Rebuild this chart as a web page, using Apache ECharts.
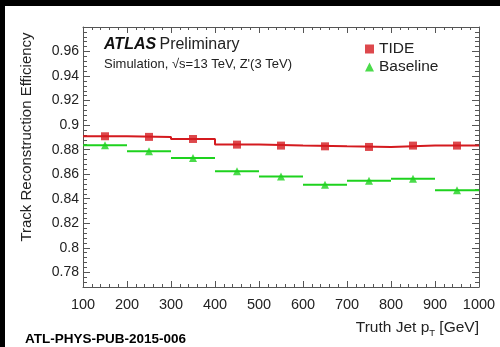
<!DOCTYPE html>
<html>
<head>
<meta charset="utf-8">
<script src="https://cdn.jsdelivr.net/npm/echarts@6/dist/echarts.min.js"></script>
<style>
  html, body { margin: 0; padding: 0; background: #fff; }
  #main { width: 500px; height: 347px; }
</style>
</head>
<body>
<div id="main"></div>
<script>
// bin edges of truth jet pT (GeV) and the bin centres
const binEdges = [100, 200, 300, 400, 500, 600, 700, 800, 900, 1000];
const binCenters = [150, 250, 350, 450, 550, 650, 750, 850, 950];

// efficiencies
const tide = [0.8909, 0.8904, 0.8887, 0.8841, 0.8833, 0.8827, 0.8822, 0.8833, 0.8833];
const baseline = [0.8835, 0.8786, 0.8732, 0.8623, 0.8582, 0.8514, 0.8547, 0.8563, 0.8468];

const RED = '#d41a1f';
const GREEN = '#1ed21e';
const AXIS = '#555';
const FONT = '"Liberation Sans", Arial, sans-serif';

// histogram style steps for TIDE
const tideSteps = [];
tide.forEach((v, i) => {
    tideSteps.push([binEdges[i], v]);
    tideSteps.push([binEdges[i + 1], v]);
});
const baseBins = baseline.map((v, i) => [binEdges[i], binEdges[i + 1], v]);

const myChart = echarts.init(document.getElementById('main'));

const yCommon = {
    type: 'value', min: 0.768, max: 0.98, splitNumber: 10,
    axisLine: { show: true, onZero: false, lineStyle: { color: AXIS, width: 1 } },
    axisTick: { inside: true, length: 7, lineStyle: { color: AXIS } },
    minorTick: { show: true, splitNumber: 5, length: 4, lineStyle: { color: AXIS } },
    splitLine: { show: false }
};
const xCommon = {
    type: 'value', min: 100, max: 1000, interval: 100,
    axisLine: { show: true, onZero: false, lineStyle: { color: AXIS, width: 1 } },
    axisTick: { inside: true, length: 6, lineStyle: { color: AXIS } },
    minorTick: { show: true, splitNumber: 5, length: 3, lineStyle: { color: AXIS } },
    splitLine: { show: false }
};

const option = {
    animation: false,
    grid: { left: 83, top: 27, right: 21, bottom: 60 },
    xAxis: [
        Object.assign({}, xCommon, {
            position: 'bottom',
            axisLabel: { fontSize: 14.5, color: '#222', fontFamily: FONT, margin: 10,
                formatter: v => String(v) }
        }),
        Object.assign({}, xCommon, { position: 'top', axisLabel: { show: false } })
    ],
    yAxis: [
        Object.assign({}, yCommon, {
            position: 'left',
            axisLabel: { fontSize: 14, color: '#222', fontFamily: FONT, margin: 4,
                showMinLabel: false, showMaxLabel: false }
        }),
        Object.assign({}, yCommon, { position: 'right', axisLabel: { show: false } })
    ],
    legend: {
        left: 360, top: 36, orient: 'vertical', itemGap: 2,
        itemWidth: 9, itemHeight: 9,
        textStyle: { fontSize: 15.5, color: '#222', fontFamily: FONT },
        data: [{ name: 'TIDE', icon: 'rect' }, { name: 'Baseline', icon: 'triangle' }]
    },
    graphic: [
        { type: 'text', x: 104, y: 45, style: {
            text: '{b|ATLAS} {n|Preliminary}', verticalAlign: 'middle',
            rich: {
                b: { fontSize: 16, fontWeight: 'bold', fontStyle: 'italic', fill: '#111', fontFamily: FONT },
                n: { fontSize: 16, fill: '#222', fontFamily: FONT }
            } } },
        { type: 'text', x: 104, y: 64, style: {
            text: "Simulation, \u221As=13 TeV, Z'(3 TeV)", verticalAlign: 'middle',
            fontSize: 13, fill: '#222', fontFamily: FONT } },
        { type: 'text', x: 27, y: 137, rotation: Math.PI / 2, style: {
            text: 'Track Reconstruction Efficiency', align: 'center', verticalAlign: 'middle',
            fontSize: 15, fill: '#222', fontFamily: FONT } },
        { type: 'text', x: 479, y: 328, style: {
            text: '{a|Truth Jet p}{s|T}{a| [GeV]}', align: 'right', verticalAlign: 'middle',
            rich: {
                a: { fontSize: 15.5, fill: '#222', fontFamily: FONT },
                s: { fontSize: 9.5, fill: '#222', fontFamily: FONT, padding: [11, 0, 0, 0] }
            } } },
        { type: 'text', x: 25, y: 339, style: {
            text: 'ATL-PHYS-PUB-2015-006', verticalAlign: 'middle',
            fontSize: 13.5, fontWeight: 'bold', fill: '#000', fontFamily: FONT } },
        // black frame of the screenshot
        { type: 'rect', shape: { x: 0, y: 0, width: 500, height: 6 }, style: { fill: '#000' }, z: 100 },
        { type: 'rect', shape: { x: 0, y: 0, width: 5, height: 347 }, style: { fill: '#000' }, z: 100 }
    ],
    series: [
        {
            name: 'tideLine', type: 'line', data: tideSteps, symbol: 'none',
            lineStyle: { color: RED, width: 2 }, z: 2
        },
        {
            name: 'TIDE', type: 'scatter', data: binCenters.map((x, i) => [x, tide[i]]),
            symbol: 'rect', symbolSize: 8, itemStyle: { color: RED }, z: 3
        },
        {
            name: 'baseLine', type: 'custom', data: baseBins, z: 2,
            renderItem: (params, api) => {
                const p0 = api.coord([api.value(0), api.value(2)]);
                const p1 = api.coord([api.value(1), api.value(2)]);
                return {
                    type: 'line',
                    shape: { x1: p0[0], y1: p0[1], x2: p1[0], y2: p1[1] },
                    style: { stroke: GREEN, lineWidth: 2 }
                };
            }
        },
        {
            name: 'Baseline', type: 'scatter', data: binCenters.map((x, i) => [x, baseline[i]]),
            symbol: 'triangle', symbolSize: 8, itemStyle: { color: GREEN }, z: 3
        }
    ]
};

myChart.setOption(option);
</script>
</body>
</html>
